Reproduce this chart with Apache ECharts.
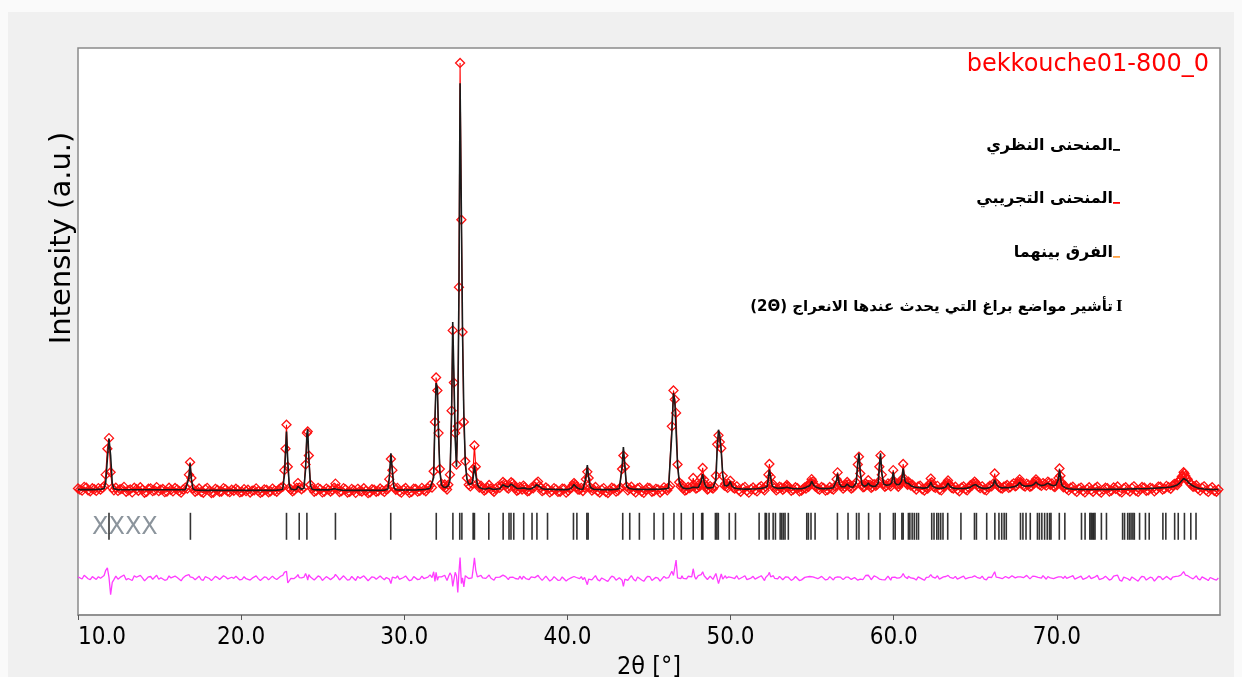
<!DOCTYPE html>
<html>
<head>
<meta charset="utf-8">
<script src="https://cdn.jsdelivr.net/npm/echarts@6/dist/echarts.min.js"></script>
<style>
  html, body { margin: 0; padding: 0; background: #fafafa; }
  #chart { width: 1242px; height: 677px; }
</style>
</head>
<body>
<div id="chart"></div>
<script>
// Powder diffraction profile: 2θ positions (°) with observed and calculated intensities (counts)
const twoTheta = [
  10.00, 10.12, 10.25, 10.38, 10.50, 10.62, 10.75, 10.88, 11.00, 11.12,
  11.25, 11.38, 11.50, 11.60, 11.70, 11.80, 11.90, 12.00, 12.10, 12.20,
  12.32, 12.45, 12.58, 12.70, 12.82, 12.95, 13.08, 13.20, 13.32, 13.45,
  13.58, 13.70, 13.82, 13.95, 14.08, 14.20, 14.32, 14.45, 14.58, 14.70,
  14.82, 14.95, 15.08, 15.20, 15.32, 15.45, 15.58, 15.70, 15.82, 15.95,
  16.08, 16.20, 16.32, 16.45, 16.58, 16.70, 16.80, 16.87, 16.95, 17.05,
  17.18, 17.30, 17.42, 17.55, 17.68, 17.80, 17.92, 18.05, 18.18, 18.30,
  18.42, 18.55, 18.68, 18.80, 18.92, 19.05, 19.18, 19.30, 19.42, 19.55,
  19.68, 19.80, 19.92, 20.05, 20.18, 20.30, 20.42, 20.55, 20.68, 20.80,
  20.92, 21.05, 21.18, 21.30, 21.42, 21.55, 21.68, 21.80, 21.92, 22.05,
  22.18, 22.30, 22.42, 22.55, 22.65, 22.72, 22.78, 22.86, 22.95, 23.05,
  23.15, 23.25, 23.40, 23.48, 23.56, 23.70, 23.85, 23.95, 24.03, 24.08,
  24.15, 24.25, 24.35, 24.48, 24.60, 24.72, 24.85, 24.98, 25.10, 25.22,
  25.35, 25.48, 25.60, 25.70, 25.78, 25.92, 26.03, 26.15, 26.28, 26.40,
  26.52, 26.65, 26.78, 26.90, 27.02, 27.15, 27.28, 27.40, 27.52, 27.65,
  27.78, 27.90, 28.02, 28.15, 28.28, 28.40, 28.52, 28.65, 28.78, 28.90,
  29.00, 29.08, 29.18, 29.27, 29.36, 29.48, 29.58, 29.70, 29.82, 29.95,
  30.08, 30.20, 30.32, 30.45, 30.58, 30.70, 30.82, 30.95, 31.08, 31.20,
  31.32, 31.45, 31.58, 31.70, 31.80, 31.88, 31.95, 32.03, 32.10, 32.18,
  32.28, 32.40, 32.48, 32.55, 32.62, 32.70, 32.80, 32.90, 32.97, 33.04,
  33.12, 33.20, 33.28, 33.35, 33.42, 33.50, 33.57, 33.65, 33.74, 33.84,
  33.95, 34.05, 34.15, 34.22, 34.30, 34.38, 34.48, 34.60, 34.70, 34.80,
  34.90, 35.00, 35.10, 35.20, 35.30, 35.40, 35.50, 35.60, 35.72, 35.85,
  35.95, 36.05, 36.15, 36.22, 36.30, 36.38, 36.45, 36.55, 36.65, 36.72,
  36.80, 36.90, 37.00, 37.08, 37.15, 37.22, 37.30, 37.38, 37.45, 37.55,
  37.65, 37.78, 37.90, 38.00, 38.10, 38.20, 38.28, 38.35, 38.45, 38.55,
  38.68, 38.80, 38.92, 39.05, 39.18, 39.30, 39.42, 39.55, 39.68, 39.80,
  39.92, 40.05, 40.15, 40.25, 40.32, 40.40, 40.48, 40.55, 40.65, 40.75,
  40.85, 40.95, 41.05, 41.13, 41.22, 41.30, 41.40, 41.50, 41.60, 41.72,
  41.85, 41.98, 42.10, 42.22, 42.35, 42.48, 42.60, 42.72, 42.85, 42.98,
  43.10, 43.18, 43.25, 43.35, 43.43, 43.52, 43.62, 43.70, 43.80, 43.92,
  44.05, 44.18, 44.30, 44.42, 44.55, 44.68, 44.80, 44.92, 45.05, 45.18,
  45.30, 45.42, 45.55, 45.68, 45.80, 45.92, 46.05, 46.12, 46.20, 46.30,
  46.40, 46.50, 46.58, 46.66, 46.75, 46.85, 46.95, 47.02, 47.10, 47.20,
  47.30, 47.40, 47.50, 47.62, 47.71, 47.80, 47.88, 47.95, 48.02, 48.10,
  48.20, 48.29, 48.38, 48.45, 48.50, 48.58, 48.65, 48.75, 48.85, 48.92,
  49.00, 49.10, 49.18, 49.26, 49.34, 49.43, 49.52, 49.62, 49.68, 49.75,
  49.82, 49.88, 49.98, 50.08, 50.16, 50.25, 50.38, 50.50, 50.62, 50.75,
  50.88, 51.00, 51.12, 51.25, 51.38, 51.50, 51.62, 51.75, 51.88, 52.00,
  52.08, 52.15, 52.25, 52.32, 52.38, 52.46, 52.56, 52.62, 52.70, 52.80,
  52.90, 53.00, 53.10, 53.20, 53.30, 53.38, 53.45, 53.52, 53.60, 53.72,
  53.85, 53.98, 54.10, 54.22, 54.35, 54.45, 54.55, 54.62, 54.70, 54.78,
  54.85, 54.92, 54.97, 55.04, 55.10, 55.18, 55.25, 55.35, 55.45, 55.58,
  55.70, 55.82, 55.95, 56.08, 56.20, 56.30, 56.40, 56.50, 56.56, 56.66,
  56.72, 56.80, 56.90, 57.00, 57.08, 57.15, 57.22, 57.30, 57.40, 57.50,
  57.60, 57.70, 57.80, 57.87, 57.95, 58.05, 58.12, 58.20, 58.28, 58.35,
  58.44, 58.55, 58.62, 58.70, 58.80, 58.90, 58.98, 59.05, 59.12, 59.19,
  59.27, 59.38, 59.46, 59.55, 59.65, 59.75, 59.82, 59.88, 59.97, 60.07,
  60.14, 60.20, 60.28, 60.35, 60.42, 60.48, 60.58, 60.68, 60.74, 60.80,
  60.85, 60.90, 60.98, 61.05, 61.15, 61.25, 61.38, 61.50, 61.62, 61.75,
  61.88, 62.00, 62.08, 62.15, 62.22, 62.27, 62.32, 62.37, 62.45, 62.55,
  62.68, 62.80, 62.92, 63.05, 63.12, 63.20, 63.27, 63.33, 63.39, 63.45,
  63.55, 63.65, 63.78, 63.90, 64.02, 64.15, 64.28, 64.40, 64.50, 64.60,
  64.70, 64.80, 64.88, 64.96, 65.03, 65.10, 65.20, 65.30, 65.42, 65.55,
  65.68, 65.80, 65.90, 66.00, 66.10, 66.19, 66.28, 66.36, 66.45, 66.55,
  66.65, 66.75, 66.85, 66.95, 67.05, 67.15, 67.25, 67.35, 67.45, 67.52,
  67.60, 67.66, 67.72, 67.78, 67.85, 67.95, 68.05, 68.15, 68.25, 68.35,
  68.45, 68.52, 68.60, 68.66, 68.72, 68.78, 68.85, 68.95, 69.05, 69.15,
  69.25, 69.35, 69.45, 69.52, 69.60, 69.70, 69.80, 69.88, 69.95, 70.05,
  70.10, 70.16, 70.22, 70.27, 70.33, 70.40, 70.50, 70.60, 70.72, 70.85,
  70.98, 71.10, 71.22, 71.35, 71.48, 71.60, 71.72, 71.85, 71.98, 72.10,
  72.22, 72.35, 72.48, 72.60, 72.72, 72.85, 72.98, 73.10, 73.22, 73.35,
  73.48, 73.60, 73.72, 73.85, 73.98, 74.10, 74.22, 74.35, 74.48, 74.60,
  74.72, 74.85, 74.98, 75.10, 75.22, 75.35, 75.48, 75.60, 75.72, 75.85,
  75.98, 76.10, 76.22, 76.35, 76.48, 76.60, 76.72, 76.85, 76.98, 77.10,
  77.20, 77.30, 77.38, 77.45, 77.52, 77.60, 77.66, 77.72, 77.77, 77.82,
  77.88, 77.95, 78.02, 78.10, 78.18, 78.25, 78.35, 78.45, 78.55, 78.65,
  78.78, 78.90, 79.02, 79.15, 79.28, 79.40, 79.52, 79.65, 79.78, 79.90
];

const observed = [
  207, 196, 188, 221, 215, 190, 182, 209, 200, 185,
  210, 196, 212, 228, 330, 560, 655, 352, 212, 190,
  214, 185, 200, 203, 221, 178, 190, 199, 172, 214,
  201, 187, 218, 196, 169, 176, 205, 208, 183, 190,
  219, 183, 197, 202, 174, 179, 213, 195, 181, 211,
  199, 184, 170, 198, 215, 205, 330, 440, 300, 205,
  178, 188, 207, 176, 169, 201, 212, 185, 166, 170,
  204, 193, 177, 180, 210, 199, 181, 174, 196, 186,
  205, 192, 172, 178, 201, 183, 196, 171, 188, 190,
  208, 184, 168, 176, 199, 195, 173, 182, 206, 188,
  178, 197, 211, 222, 370, 560, 775, 400, 212, 198,
  181, 190, 212, 255, 215, 200, 215, 420, 700, 715,
  500, 240, 205, 178, 186, 212, 201, 172, 179, 206,
  194, 180, 192, 214, 250, 205, 175, 183, 210, 199,
  171, 176, 203, 191, 168, 204, 186, 180, 209, 187,
  165, 172, 200, 196, 178, 184, 207, 190, 176, 198,
  205, 290, 470, 370, 220, 195, 212, 181, 170, 197,
  211, 188, 168, 176, 205, 202, 179, 185, 212, 193,
  182, 210, 235, 215, 360, 800, 1195, 1080, 700, 380,
  250, 225, 242, 215, 198, 240, 330, 900, 1615, 1150,
  700, 420, 760, 2000, 3997, 2600, 1600, 800, 450, 300,
  240, 225, 250, 380, 590, 400, 250, 215, 232, 205,
  188, 198, 214, 238, 206, 190, 178, 205, 221, 212,
  230, 265, 250, 238, 215, 205, 232, 262, 252, 230,
  210, 186, 195, 221, 212, 198, 232, 220, 200, 181,
  186, 212, 208, 225, 255, 268, 230, 214, 183, 192,
  216, 203, 172, 185, 210, 199, 176, 178, 206, 204,
  170, 186, 205, 213, 236, 255, 240, 222, 196, 196,
  212, 184, 215, 290, 355, 300, 215, 188, 201, 220,
  183, 171, 197, 210, 176, 166, 192, 214, 206, 179,
  188, 205, 215, 380, 500, 400, 225, 190, 204, 222,
  189, 172, 207, 215, 180, 168, 195, 213, 210, 177,
  183, 204, 199, 171, 188, 217, 203, 190, 214, 230,
  760, 1080, 1000, 880, 420, 262, 225, 240, 206, 188,
  195, 220, 210, 225, 300, 232, 205, 212, 236, 225,
  300, 390, 285, 240, 222, 198, 205, 228, 214, 205,
  224, 320, 600, 680, 620, 565, 320, 232, 250, 225,
  212, 250, 275, 230, 215, 205, 226, 192, 178, 210,
  221, 186, 170, 201, 216, 193, 181, 215, 228, 204,
  190, 222, 240, 330, 425, 310, 228, 242, 212, 190,
  201, 222, 215, 195, 208, 225, 238, 224, 210, 186,
  196, 218, 210, 182, 188, 204, 217, 205, 232, 222,
  245, 262, 290, 268, 242, 226, 220, 205, 196, 220,
  212, 188, 194, 220, 205, 196, 225, 290, 350, 255,
  240, 226, 205, 220, 240, 265, 245, 222, 205, 215,
  232, 260, 420, 490, 340, 240, 218, 222, 250, 240,
  280, 238, 212, 222, 245, 230, 242, 262, 400, 500,
  330, 245, 222, 232, 252, 240, 225, 262, 370, 265,
  248, 238, 222, 245, 260, 285, 425, 290, 262, 248,
  240, 268, 250, 232, 240, 215, 198, 225, 231, 200,
  189, 218, 205, 230, 250, 295, 262, 238, 222, 212,
  230, 198, 190, 222, 240, 235, 255, 278, 250, 230,
  212, 206, 222, 196, 182, 215, 225, 200, 190, 214,
  236, 232, 250, 268, 255, 238, 222, 210, 226, 198,
  190, 218, 232, 226, 250, 340, 252, 240, 222, 210,
  205, 222, 228, 238, 212, 220, 240, 252, 226, 232,
  248, 265, 288, 262, 245, 232, 224, 250, 240, 222,
  228, 252, 250, 270, 288, 268, 250, 240, 230, 255,
  244, 232, 268, 258, 240, 252, 226, 220, 240, 255,
  300, 385, 320, 262, 240, 218, 230, 204, 190, 213,
  222, 190, 176, 206, 215, 186, 172, 201, 218, 192,
  178, 209, 222, 184, 170, 197, 214, 210, 180, 188,
  216, 203, 225, 181, 172, 208, 218, 195, 180, 212,
  226, 187, 176, 201, 220, 215, 186, 190, 214, 208,
  181, 196, 224, 222, 198, 205, 230, 218, 204, 232,
  248, 246, 238, 262, 280, 290, 312, 320, 352, 340,
  318, 295, 288, 262, 250, 240, 222, 225, 236, 204,
  188, 214, 226, 190, 176, 203, 218, 186, 178, 198
];

const calculated = [
  197, 197, 197, 197, 197, 197, 197, 197, 198, 198,
  199, 199, 200, 206, 262, 470, 650, 500, 252, 205,
  198, 196, 195, 195, 195, 195, 195, 195, 195, 195,
  195, 195, 195, 195, 195, 195, 195, 195, 195, 195,
  195, 195, 195, 195, 195, 195, 195, 195, 195, 195,
  195, 195, 195, 196, 197, 200, 300, 430, 290, 203,
  194, 192, 191, 190, 190, 190, 190, 190, 190, 190,
  190, 190, 190, 190, 190, 190, 190, 190, 190, 190,
  190, 190, 190, 190, 190, 190, 190, 190, 190, 190,
  190, 190, 190, 190, 190, 190, 190, 190, 190, 191,
  192, 194, 196, 200, 320, 520, 715, 445, 240, 202,
  197, 196, 200, 225, 212, 200, 208, 380, 690, 735,
  470, 232, 200, 196, 195, 194, 194, 194, 194, 194,
  194, 195, 196, 204, 218, 198, 193, 192, 191, 191,
  190, 190, 190, 190, 190, 190, 190, 190, 190, 190,
  190, 190, 190, 190, 190, 190, 190, 191, 192, 194,
  202, 300, 520, 362, 218, 196, 194, 193, 193, 193,
  193, 193, 193, 193, 193, 194, 194, 195, 196, 198,
  200, 203, 208, 212, 305, 830, 1145, 1100, 690, 360,
  240, 220, 218, 216, 220, 232, 285, 880, 1690, 1230,
  650, 400, 890, 1950, 3815, 2650, 1600, 880, 430, 290,
  245, 240, 250, 300, 410, 330, 240, 215, 210, 205,
  203, 202, 205, 212, 206, 200, 199, 200, 202, 205,
  215, 240, 236, 226, 218, 220, 228, 246, 244, 228,
  215, 208, 205, 206, 208, 210, 216, 210, 205, 202,
  200, 203, 210, 222, 240, 245, 225, 212, 205, 200,
  200, 201, 200, 199, 198, 198, 197, 197, 197, 197,
  197, 198, 202, 210, 225, 242, 230, 218, 208, 202,
  200, 200, 210, 300, 415, 310, 218, 205, 200, 199,
  198, 197, 197, 197, 197, 197, 197, 197, 198, 199,
  200, 204, 212, 400, 575, 410, 228, 212, 206, 202,
  200, 199, 199, 199, 198, 198, 198, 198, 199, 199,
  199, 199, 200, 200, 201, 203, 205, 208, 212, 222,
  700, 1058, 985, 720, 420, 272, 232, 221, 210, 206,
  204, 205, 208, 215, 218, 220, 216, 214, 215, 220,
  270, 335, 265, 230, 218, 212, 210, 212, 215, 218,
  224, 280, 560, 730, 680, 530, 330, 236, 230, 228,
  232, 240, 270, 228, 218, 210, 206, 204, 203, 202,
  201, 201, 201, 202, 202, 203, 204, 206, 208, 210,
  214, 218, 225, 300, 375, 300, 228, 222, 215, 210,
  208, 208, 210, 211, 212, 215, 218, 216, 212, 208,
  205, 205, 205, 205, 205, 208, 212, 216, 222, 226,
  232, 250, 272, 258, 234, 224, 218, 212, 208, 206,
  206, 206, 206, 208, 210, 214, 222, 280, 340, 248,
  232, 222, 220, 222, 232, 246, 238, 224, 218, 218,
  228, 255, 440, 520, 350, 245, 232, 225, 228, 235,
  256, 236, 228, 226, 226, 228, 236, 255, 410, 520,
  345, 248, 240, 236, 236, 240, 245, 258, 355, 258,
  246, 240, 240, 245, 255, 272, 385, 280, 258, 245,
  246, 252, 242, 232, 226, 220, 217, 216, 213, 210,
  210, 212, 216, 222, 240, 265, 248, 228, 218, 214,
  210, 208, 209, 212, 216, 222, 238, 255, 240, 225,
  215, 210, 208, 206, 206, 207, 208, 208, 210, 212,
  218, 225, 236, 250, 242, 232, 222, 214, 210, 208,
  208, 210, 215, 222, 238, 285, 245, 230, 220, 214,
  212, 212, 215, 216, 214, 216, 220, 222, 225, 230,
  238, 250, 262, 252, 238, 230, 226, 227, 230, 230,
  232, 236, 245, 256, 265, 256, 245, 238, 232, 234,
  238, 244, 255, 248, 240, 236, 232, 234, 238, 245,
  290, 375, 310, 252, 232, 222, 214, 208, 205, 202,
  201, 200, 200, 199, 199, 198, 198, 198, 198, 198,
  198, 199, 199, 198, 198, 198, 198, 199, 199, 199,
  199, 200, 200, 200, 200, 201, 201, 202, 202, 203,
  203, 203, 204, 204, 205, 205, 205, 206, 207, 208,
  209, 210, 211, 212, 213, 214, 216, 218, 220, 224,
  228, 232, 238, 245, 255, 265, 278, 290, 296, 300,
  292, 280, 268, 255, 246, 238, 230, 222, 216, 210,
  206, 204, 202, 200, 199, 199, 198, 198, 198, 198
];

// Reflection positions (2θ, °) of the refined phase
const braggPositions = [
  11.90, 16.89, 22.78, 23.56, 24.03, 25.78, 29.17, 31.96, 32.98, 33.40,
  33.53, 34.22, 34.30, 35.18, 36.06, 36.42, 36.54, 36.71, 37.32, 37.83,
  38.13, 38.78, 40.37, 40.58, 41.19, 41.27, 43.39, 43.82, 44.41, 45.31,
  45.88, 46.53, 46.98, 47.71, 48.23, 48.30, 49.07, 49.16, 49.25, 49.92,
  50.30, 51.75, 52.12, 52.20, 52.36, 52.61, 52.75, 53.04, 53.14, 53.24,
  53.34, 53.54, 54.67, 54.77, 54.93, 55.18, 56.55, 57.20, 57.72, 57.87,
  58.46, 59.16, 59.98, 60.09, 60.50, 60.58, 60.90, 60.99, 61.13, 61.26,
  61.40, 61.52, 62.33, 62.47, 62.64, 62.75, 62.88, 63.02, 63.31, 64.12,
  64.95, 65.07, 65.70, 66.20, 66.45, 66.62, 66.77, 66.90, 67.77, 67.92,
  68.11, 68.37, 68.81, 68.93, 69.08, 69.25, 69.41, 69.55, 69.64, 70.15,
  70.49, 71.51, 71.73, 72.02, 72.10, 72.18, 72.26, 72.34, 72.73, 73.04,
  74.03, 74.15, 74.34, 74.45, 74.55, 74.66, 74.75, 75.07, 75.43, 75.66,
  76.50, 76.68, 77.22, 77.44, 77.82, 78.21, 78.53
];

const sampleName = 'bekkouche01-800_0';
const phaseLabel = 'XXXX';
const yAxisTitle = 'Intensity (a.u.)';
const xAxisTitle = '2θ [°]';

// Legend entries and their marker colours
const legendTexts = ['المنحنى النظري', 'المنحنى التجريبي', 'الفرق بينهما'];
const legendColors = ['#000000', '#ff0000', '#ffa040'];
const braggLegendText = '(2Θ) ' + 'تأشير مواضع براغ التي يحدث عندها الانعراج';

// Vertical placement of the reflection-marker row and the difference curve
const TICK_ROW = -130;
const DIFF_OFFSET = -590;

const obsData = twoTheta.map((t, i) => [t, observed[i]]);
const calcData = twoTheta.map((t, i) => [t, calculated[i]]);
const diffData = twoTheta.map((t, i) => [t, observed[i] - calculated[i] + DIFF_OFFSET]);
const braggData = braggPositions.map(t => [t, TICK_ROW]);

const arabicFont = '"DejaVu Sans", sans-serif';
const axisFont = '"DejaVu Sans Condensed", "Liberation Sans", sans-serif';
const legendGraphics = [];
const legendY = [146, 199, 253];
legendTexts.forEach((txt, i) => {
  legendGraphics.push({
    type: 'text', x: 1113, y: legendY[i],
    style: { text: txt, fontFamily: arabicFont, fontWeight: 'bold', fontSize: 16,
             fill: '#000', align: 'right', verticalAlign: 'middle' }
  });
  legendGraphics.push({
    type: 'rect', shape: { x: 1113, y: legendY[i] + 3, width: 7, height: 1.8 },
    style: { fill: legendColors[i] }
  });
});
legendGraphics.push({
  type: 'text', x: 1113, y: 307,
  style: { text: braggLegendText, fontFamily: arabicFont, fontWeight: 'bold', fontSize: 15,
           fill: '#000', align: 'right', verticalAlign: 'middle' }
});
legendGraphics.push({
  type: 'text', x: 1116, y: 307,
  style: { text: 'I', fontFamily: '"Liberation Serif", serif', fontWeight: 'bold', fontSize: 17,
           fill: '#000', align: 'left', verticalAlign: 'middle' }
});

const chart = echarts.init(document.getElementById('chart'), null, { renderer: 'canvas' });
chart.setOption({
  animation: false,
  backgroundColor: '#fafafa',
  graphic: [
    { type: 'rect', z: -100, silent: true,
      shape: { x: 8, y: 12, width: 1226, height: 665 }, style: { fill: '#f0f0f0' } },
    { type: 'text', x: 1209, y: 65, z: 10,
      style: { text: sampleName, fontFamily: '"DejaVu Sans", sans-serif', fontSize: 24,
               fill: '#ff0000', align: 'right', verticalAlign: 'middle' } },
    { type: 'text', x: 62, y: 238, rotation: Math.PI / 2, z: 10,
      style: { text: yAxisTitle, fontFamily: '"DejaVu Sans", sans-serif', fontSize: 29,
               fill: '#000', align: 'center', verticalAlign: 'middle' } },
    { type: 'text', x: 92, y: 528, z: 1,
      style: { text: phaseLabel, fontFamily: '"DejaVu Sans", sans-serif', fontSize: 24,
               fill: '#8b949c', align: 'left', verticalAlign: 'middle' } }
  ].concat(legendGraphics.map(g => Object.assign({ z: 10 }, g))),
  grid: {
    left: 78, right: 22, top: 48, bottom: 62,
    show: true, backgroundColor: '#ffffff', borderColor: '#8a8a8a', borderWidth: 1.5,
    outerBoundsMode: 'none'
  },
  xAxis: {
    type: 'value', min: 10, max: 80, interval: 10,
    axisLine: { show: true, onZero: false, lineStyle: { color: '#8a8a8a', width: 1.5 } },
    axisTick: { show: true, length: 5, lineStyle: { color: '#555' } },
    axisLabel: {
      formatter: v => v.toFixed(1), showMaxLabel: false, showMinLabel: true,
      alignMinLabel: 'left',
      color: '#000', fontSize: 24, margin: 11, fontFamily: axisFont
    },
    splitLine: { show: false },
    name: xAxisTitle, nameLocation: 'middle', nameGap: 40,
    nameTextStyle: { color: '#000', fontSize: 25, fontFamily: axisFont }
  },
  yAxis: {
    type: 'value', min: -920, max: 4130,
    axisLine: { show: false }, axisTick: { show: false },
    axisLabel: { show: false }, splitLine: { show: false }
  },
  series: [
    {
      name: 'observed', type: 'line', data: obsData, z: 2,
      symbol: 'diamond', symbolSize: 9, showSymbol: true, showAllSymbol: true,
      lineStyle: { color: '#ff0000', width: 1.1 },
      itemStyle: { color: 'rgba(255,255,255,0)', borderColor: '#ff1010', borderWidth: 1.3 },
      emphasis: { disabled: true }, silent: true
    },
    {
      name: 'calculated', type: 'line', data: calcData, z: 3,
      symbol: 'none', lineStyle: { color: '#1a1a1a', width: 1.6 },
      emphasis: { disabled: true }, silent: true
    },
    {
      name: 'difference', type: 'line', data: diffData, z: 3,
      symbol: 'none', lineStyle: { color: '#ff3cff', width: 1.3 },
      emphasis: { disabled: true }, silent: true
    },
    {
      name: 'reflections', type: 'scatter', data: braggData, z: 4,
      symbol: 'rect', symbolSize: [1.6, 27],
      itemStyle: { color: '#000000' },
      emphasis: { disabled: true }, silent: true
    }
  ]
});
</script>
</body>
</html>
